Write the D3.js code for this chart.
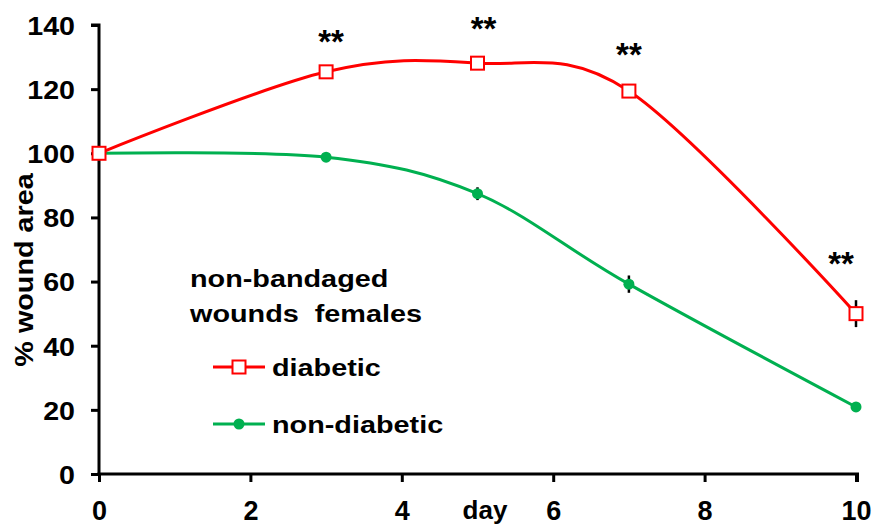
<!DOCTYPE html>
<html>
<head>
<meta charset="utf-8">
<script src="https://cdn.jsdelivr.net/npm/d3@7"></script>
<style>
  html, body { margin: 0; padding: 0; background: #fff; }
  svg { display: block; }
  svg text { font-family: "Liberation Sans", Arial, sans-serif; font-weight: bold; fill: #000; }
</style>
</head>
<body>
<svg id="chart" width="875" height="526"></svg>
<script>
// Wound area over time, non-bandaged wounds in females
const days = [0, 3, 5, 7, 10];
const diabetic = [100, 125.4, 128.1, 119.4, 50.0];
const diabeticErr = [0, 1.2, 1.0, 1.5, 4.2];
const nonDiabetic = [100, 98.8, 87.4, 59.2, 20.9];
const nonDiabeticErr = [0, 0.8, 2.0, 2.7, 0.8];
const significance = ["", "**", "**", "**", "**"];
const xTicks = [0, 2, 4, 6, 8, 10];
const yTicks = [0, 20, 40, 60, 80, 100, 120, 140];

const RED = "#ff0000";
const GREEN = "#00b050";

const svg = d3.select("#chart");

const x = d3.scaleLinear().domain([0, 10]).range([99, 856]);
const y = d3.scaleLinear().domain([0, 140]).range([474, 25]);

// Text helper: wide bold lettering, stretched horizontally
function wideText(parent, tx, ty, str, size, sx, anchor) {
  return parent.append("text")
    .attr("transform", `translate(${tx},${ty}) scale(${sx},1)`)
    .attr("text-anchor", anchor || "start")
    .style("font-size", size + "px")
    .attr("xml:space", "preserve")
    .text(str);
}

// Axes
const yAxis = d3.axisLeft(y).tickValues(yTicks).tickSize(8).tickPadding(16);
const gy = svg.append("g").attr("transform", `translate(${x(0)},0)`).call(yAxis)
  .attr("font-family", null).attr("font-size", null);
gy.select(".domain").attr("stroke", "#000").attr("stroke-width", 3).attr("d", `M-8,${y(140)}H0V${y(0)+1.5}`);
gy.selectAll(".tick line").attr("stroke", "#000").attr("stroke-width", 3);
gy.selectAll(".tick text").style("font-size", "26px").attr("dy", "0.36em")
  .attr("transform", function() { return `translate(${this.getAttribute("x")},0) scale(1.1,1) translate(${-this.getAttribute("x")},0)`; });

const xAxis = d3.axisBottom(x).tickValues(xTicks).tickSize(8).tickPadding(19);
const gx = svg.append("g").attr("transform", `translate(0,${y(0)})`).call(xAxis)
  .attr("font-family", null).attr("font-size", null);
gx.select(".domain").attr("stroke", "#000").attr("stroke-width", 3).attr("d", `M${x(0)-1.5},0H${x(10)+1.5}V8`);
gx.selectAll(".tick line").attr("stroke", "#000").attr("stroke-width", 3);
gx.selectAll(".tick text").style("font-size", "27px").attr("dy", "0.71em");

// Axis titles
svg.append("text")
  .attr("transform", `translate(33,270) rotate(-90) scale(1.15,1)`)
  .attr("text-anchor", "middle")
  .style("font-size", "25px")
  .text("% wound area");

svg.append("text")
  .attr("x", 485).attr("y", 519)
  .attr("text-anchor", "middle")
  .style("font-size", "26px")
  .text("day");

// Series
const curve = d3.curveCatmullRom.alpha(0);
const line = d3.line().x(d => x(d[0])).y(d => y(d[1])).curve(curve);

const nd = days.map((d, i) => [d, nonDiabetic[i], nonDiabeticErr[i]]);
const dia = days.map((d, i) => [d, diabetic[i], diabeticErr[i]]);

// Error bars (drawn under the markers)
function errorBars(data) {
  svg.append("g").selectAll("line").data(data.filter(d => d[2] > 0)).join("line")
    .attr("x1", d => x(d[0])).attr("x2", d => x(d[0]))
    .attr("y1", d => y(d[1] - d[2])).attr("y2", d => y(d[1] + d[2]))
    .attr("stroke", "#000").attr("stroke-width", 2.5);
}
errorBars(nd);
errorBars(dia);

svg.append("path").datum(nd).attr("d", line)
  .attr("fill", "none").attr("stroke", GREEN).attr("stroke-width", 3);
svg.append("path").datum(dia).attr("d", line)
  .attr("fill", "none").attr("stroke", RED).attr("stroke-width", 3);

svg.append("g").selectAll("circle").data(nd).join("circle")
  .attr("cx", d => x(d[0])).attr("cy", d => y(d[1])).attr("r", 5.5)
  .attr("fill", GREEN);

const sq = 13;
svg.append("g").selectAll("rect").data(dia).join("rect")
  .attr("x", d => x(d[0]) - sq / 2).attr("y", d => y(d[1]) - sq / 2)
  .attr("width", sq).attr("height", sq)
  .attr("fill", "#fff").attr("stroke", RED).attr("stroke-width", 2);

// Significance markers above the diabetic points (last one nudged left to stay inside)
const starShift = [[0, 0], [5, 15], [6, 20], [0, 20], [-15, 25]];
svg.append("g").selectAll("text")
  .data(dia.map((d, i) => ({ d, i, s: significance[i] })).filter(o => o.s))
  .join("text")
  .attr("x", o => x(o.d[0]) + starShift[o.i][0])
  .attr("y", o => y(o.d[1] + o.d[2]) - starShift[o.i][1])
  .attr("text-anchor", "middle")
  .style("font-size", "33px")
  .text(o => o.s);

// Legend
const legend = svg.append("g");
wideText(legend, 190, 287, "non-bandaged", 24, 1.2);
wideText(legend, 190, 322, "wounds  females", 24, 1.2);

const entries = [
  { label: "diabetic", color: RED, type: "square", y: 367 },
  { label: "non-diabetic", color: GREEN, type: "circle", y: 424 }
];
entries.forEach(e => {
  legend.append("line").attr("x1", 213).attr("x2", 265).attr("y1", e.y).attr("y2", e.y)
    .attr("stroke", e.color).attr("stroke-width", 3);
  if (e.type === "square") {
    legend.append("rect").attr("x", 239 - sq / 2).attr("y", e.y - sq / 2).attr("width", sq).attr("height", sq)
      .attr("fill", "#fff").attr("stroke", e.color).attr("stroke-width", 2);
  } else {
    legend.append("circle").attr("cx", 239).attr("cy", e.y).attr("r", 5.5).attr("fill", e.color);
  }
  wideText(legend, 272, e.y + 8.5, e.label, 24, 1.2);
});
</script>
</body>
</html>
